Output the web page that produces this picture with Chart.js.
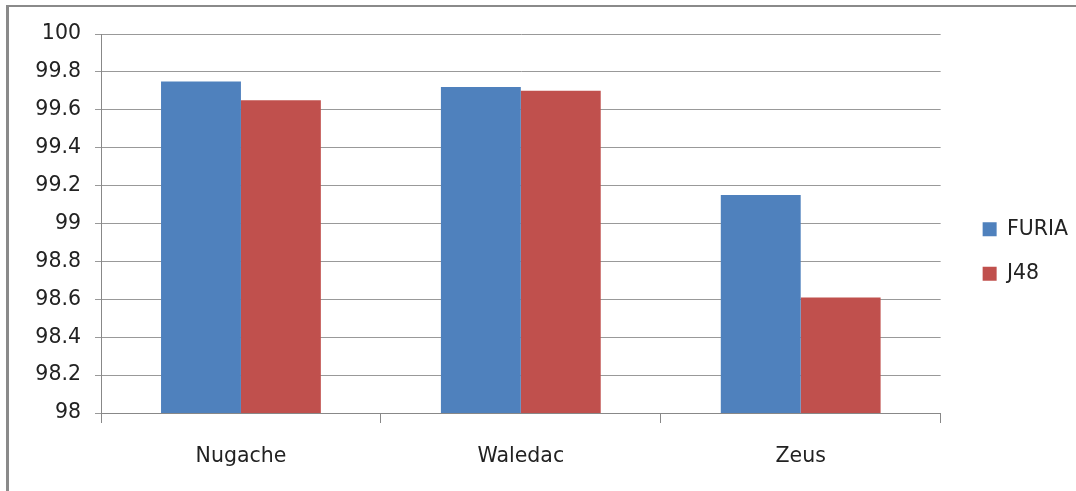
<!DOCTYPE html>
<html>
<head>
<meta charset="utf-8">
<script src="https://cdn.jsdelivr.net/npm/chart.js@4.4.0/dist/chart.umd.min.js"></script>
<style>
  html, body { margin: 0; padding: 0; background: #fff; }
  #wrap { position: relative; width: 1076px; height: 491px; }
  #frame { position: absolute; left: 6px; top: 5px; right: 0; bottom: 0;
           border-top: 2px solid #8a8a8a; border-left: 3px solid #8a8a8a; pointer-events: none; }
  canvas { position: absolute; left: 0; top: 0; }
</style>
</head>
<body>
<div id="wrap">
  <canvas id="c" width="1076" height="491"></canvas>
  <div id="frame"></div>
</div>
<script>
const categories = ["Nugache", "Waledac", "Zeus"];
const furiaValues = [99.75, 99.72, 99.15];
const j48Values = [99.65, 99.70, 98.61];
const yTickValues = [98, 98.2, 98.4, 98.6, 98.8, 99, 99.2, 99.4, 99.6, 99.8, 100];

const FONT = { family: "DejaVu Sans", size: 20.5 };

const legendShift = {
  id: "legendShift",
  afterLayout(chart) {
    const lg = chart.legend;
    if (!lg) return;
    const dx = 18, dy = -11;
    lg.left += dx; lg.right += dx;
    lg.top += dy; lg.bottom += dy;
    if (lg.legendHitBoxes) lg.legendHitBoxes.forEach(b => { b.left += dx; b.top += dy; });
  }
};

new Chart(document.getElementById("c"), {
  type: "bar",
  data: {
    labels: categories,
    datasets: [
      { label: "FURIA", data: furiaValues, backgroundColor: "#4F81BD", borderWidth: 0 },
      { label: "J48", data: j48Values, backgroundColor: "#C0504D", borderWidth: 0 }
    ]
  },
  plugins: [legendShift],
  options: {
    responsive: false,
    animation: false,
    devicePixelRatio: 1,
    layout: { padding: { left: 0, top: 34, right: 16, bottom: 0 } },
    datasets: { bar: { categoryPercentage: 0.571, barPercentage: 1.0 } },
    plugins: {
      tooltip: { enabled: false },
      legend: {
        position: "right",
        align: "center",
        labels: {
          font: FONT,
          color: "#222",
          boxWidth: 14,
          boxHeight: 14,
          padding: 24
        }
      }
    },
    scales: {
      x: {
        offset: true,
        grid: { offset: true, drawOnChartArea: false, drawTicks: true, tickLength: 10, color: "#888" },
        border: { color: "#888", width: 1 },
        ticks: { font: FONT, color: "#222", padding: 21 },
        afterFit: s => { s.height = 78; }
      },
      y: {
        min: 98,
        max: 100,
        afterBuildTicks: s => { s.ticks = yTickValues.map(v => ({ value: v })); },
        grid: { color: "#999", tickLength: 6, lineWidth: 1 },
        border: { color: "#888", width: 1 },
        ticks: {
          font: FONT,
          color: "#222",
          padding: 14,
          callback: v => String(Math.round(v * 10) / 10)
        },
        afterFit: s => { s.width = 101; }
      }
    }
  }
});
</script>
</body>
</html>
